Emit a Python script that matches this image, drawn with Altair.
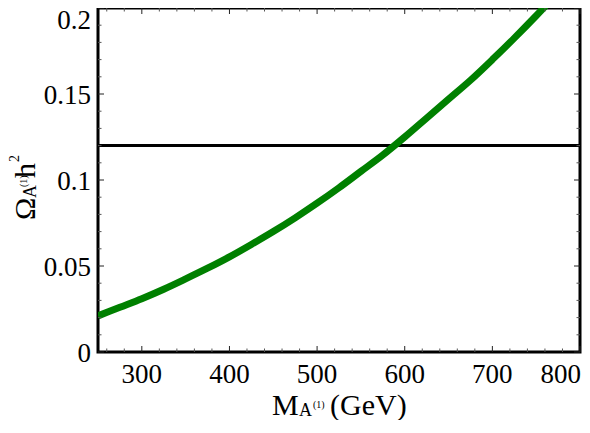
import altair as alt
import pandas as pd

# ---- data ----
mass = [250, 275, 300, 325, 350, 375, 400, 425, 450, 475, 500, 525, 550,
        575, 600, 625, 650, 675, 700, 725, 750, 775]
omega = [0.021, 0.026, 0.031, 0.0365, 0.0425, 0.0487, 0.0553, 0.0625, 0.070,
         0.078, 0.0865, 0.0955, 0.105, 0.1145, 0.125, 0.136, 0.147, 0.158,
         0.170, 0.1825, 0.1955, 0.209]
planck = [0.12]

x_major = [300, 400, 500, 600, 700, 800]
x_minor = [m for m in range(260, 800, 20) if m % 100 != 0]
y_major = [0.0, 0.05, 0.1, 0.15, 0.2]
y_minor = [round(0.01 * i, 2) for i in range(1, 20) if i % 5 != 0]

x_labels = ["300", "400", "500", "600", "700"]
x_label_vals = [300, 400, 500, 600, 700]
x_last_label = ["800"]
x_last_val = [800]
y_labels = ["0", "0.05", "0.1", "0.15"]
y_label_vals = [0.0, 0.05, 0.1, 0.15]
y_top_label = ["0.2"]
y_top_val = [0.2]

W, H = 482, 344
FONT = "Liberation Serif"

xs = alt.Scale(domain=[250, 800], nice=False, zero=False)
ys = alt.Scale(domain=[0, 0.2], nice=False, zero=True)

curve_df = pd.DataFrame({"m": mass, "o": omega})
curve = alt.Chart(curve_df).mark_line(
    color="#008000", strokeWidth=7, clip=True, interpolate="monotone"
).encode(
    x=alt.X("m:Q", scale=xs, axis=None),
    y=alt.Y("o:Q", scale=ys, axis=None),
)

hline = alt.Chart(pd.DataFrame({"o": planck})).mark_rule(
    color="black", strokeWidth=3
).encode(y=alt.Y("o:Q", scale=ys, axis=None), x=alt.value(0), x2=alt.value(W))


def xticks(vals, length, color):
    df = pd.DataFrame({"m": vals})
    bot = alt.Chart(df).mark_rule(color=color, strokeWidth=1).encode(
        x=alt.X("m:Q", scale=xs, axis=None), y=alt.value(H), y2=alt.value(H - length))
    top = alt.Chart(df).mark_rule(color=color, strokeWidth=1).encode(
        x=alt.X("m:Q", scale=xs, axis=None), y=alt.value(0), y2=alt.value(length))
    return [bot, top]


def yticks(vals, length, color):
    df = pd.DataFrame({"o": vals})
    left = alt.Chart(df).mark_rule(color=color, strokeWidth=1).encode(
        y=alt.Y("o:Q", scale=ys, axis=None), x=alt.value(0), x2=alt.value(length))
    right = alt.Chart(df).mark_rule(color=color, strokeWidth=1).encode(
        y=alt.Y("o:Q", scale=ys, axis=None), x=alt.value(W), x2=alt.value(W - length))
    return [left, right]


tick_layers = (xticks(x_major, 6, "#222222") + xticks(x_minor, 3.5, "#555555")
               + yticks(y_major, 6, "#222222") + yticks(y_minor, 3.5, "#555555"))

xlab = alt.Chart(pd.DataFrame({"m": x_label_vals, "t": x_labels})).mark_text(
    font=FONT, fontSize=27, align="center", baseline="alphabetic", color="black"
).encode(x=alt.X("m:Q", scale=xs, axis=None), y=alt.value(375), text="t:N")
xlab_last = alt.Chart(pd.DataFrame({"m": x_last_val, "t": x_last_label})).mark_text(
    font=FONT, fontSize=27, align="right", baseline="alphabetic", color="black", dx=1
).encode(x=alt.X("m:Q", scale=xs, axis=None), y=alt.value(375), text="t:N")

ylab = alt.Chart(pd.DataFrame({"o": y_label_vals, "t": y_labels})).mark_text(
    font=FONT, fontSize=27, align="right", baseline="alphabetic", color="black", dy=10
).encode(y=alt.Y("o:Q", scale=ys, axis=None), x=alt.value(-7), text="t:N")
ylab_top = alt.Chart(pd.DataFrame({"o": y_top_val, "t": y_top_label})).mark_text(
    font=FONT, fontSize=27, align="right", baseline="alphabetic", color="black", dy=21
).encode(y=alt.Y("o:Q", scale=ys, axis=None), x=alt.value(-7), text="t:N")


def piece(text, x, y, size, angle=0):
    kw = dict(font=FONT, fontSize=size, align="left", baseline="alphabetic", color="black")
    if angle:
        kw["angle"] = angle
    return alt.Chart(pd.DataFrame({"t": [text]})).mark_text(**kw).encode(
        text="t:N", x=alt.value(x), y=alt.value(y))


TY = 407
xtitle = [
    piece("M", 174, TY, 30),
    piece("A", 201, TY + 1, 18),
    piece("(1)", 215, TY - 7, 10),
    piece("(GeV)", 232, TY, 30),
]
TX = -63
ytitle = [
    piece("Ω", TX, 212, 30, 270),
    piece("A", TX + 1, 190, 18, 270),
    piece("(1)", TX - 8, 179, 10, 270),
    piece("h", TX, 170, 30, 270),
    piece("2", TX - 16, 154, 14, 270),
]

chart = alt.layer(
    hline, curve, *tick_layers, xlab, xlab_last, ylab, ylab_top, *xtitle, *ytitle
).properties(
    width=W, height=H,
    autosize=alt.AutoSizeParams(type="none"),
    padding={"left": 90, "top": 0, "right": 2, "bottom": 68},
).configure(
    background="white"
).configure_view(
    stroke="black", strokeWidth=3
)

chart.save("out.html", embed_options={"renderer": "svg", "actions": False})
